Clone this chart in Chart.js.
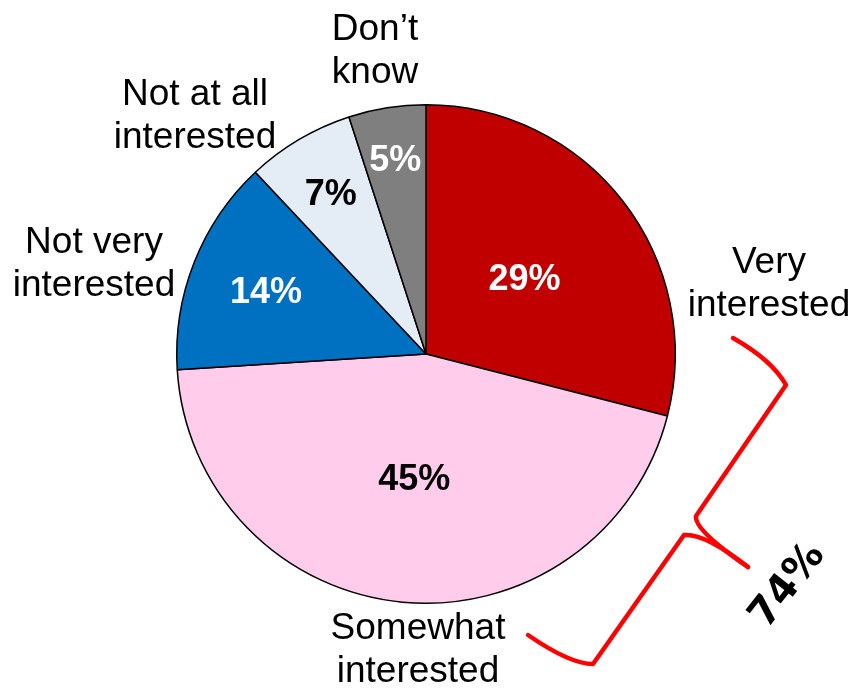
<!DOCTYPE html>
<html>
<head>
<meta charset="utf-8">
<script src="https://cdn.jsdelivr.net/npm/chart.js@4"></script>
<style>
  html, body { margin: 0; padding: 0; background: #fff; }
  #wrap { width: 856px; height: 690px; position: relative; }
</style>
</head>
<body>
<div id="wrap"><canvas id="pieChart" width="856" height="690"></canvas></div>
<script>
var categories = ['Very interested', 'Somewhat interested', 'Not very interested', 'Not at all interested', 'Don\u2019t know'];
var values = [29, 45, 14, 7, 5];
var sliceColors = ['#C00000', '#FFCCEC', '#0070C0', '#E4ECF5', '#7F7F7F'];
var valueTextColors = ['#ffffff', '#000000', '#ffffff', '#000000', '#ffffff'];
// how far out (fraction of radius) each percentage label sits
var valueLabelRadius = [0.5, 0.5, 0.69, 0.75, 0.79];
var bracketTotal = '74%';

// outside category labels, lines + anchor relative to pie centre
var outsideLabels = [
    { lines: ['Very', 'interested'], dx: 343, dy: -91 },
    { lines: ['Somewhat', 'interested'], dx: -8, dy: 275 },
    { lines: ['Not very', 'interested'], dx: -332, dy: -111 },
    { lines: ['Not at all', 'interested'], dx: -231, dy: -259 },
    { lines: ['Don\u2019t', 'know'], dx: -51, dy: -324 }
];

var labelPlugin = {
    id: 'sliceLabels',
    afterDatasetsDraw: function(chart) {
        var ctx = chart.ctx;
        var meta = chart.getDatasetMeta(0);
        var arcs = meta.data;
        if (!arcs.length) return;
        var cx = arcs[0].x, cy = arcs[0].y;

        ctx.save();
        ctx.textAlign = 'center';
        ctx.textBaseline = 'middle';

        // percentages inside slices
        ctx.font = 'bold 36px "Liberation Sans", Arial, sans-serif';
        arcs.forEach(function(arc, i) {
            var mid = (arc.startAngle + arc.endAngle) / 2;
            var r = arc.outerRadius * valueLabelRadius[i];
            ctx.fillStyle = valueTextColors[i];
            ctx.fillText(values[i] + '%', cx + Math.cos(mid) * r, cy + Math.sin(mid) * r + 2);
        });

        // category names outside
        ctx.font = '37px "Liberation Sans", Arial, sans-serif';
        ctx.fillStyle = '#000';
        outsideLabels.forEach(function(l) {
            l.lines.forEach(function(line, j) {
                ctx.fillText(line, cx + l.dx, cy + l.dy + j * 43);
            });
        });

        // red curly bracket
        ctx.strokeStyle = '#FF0000';
        ctx.lineWidth = 4.5;
        ctx.lineCap = 'round';
        ctx.lineJoin = 'round';
        function p(x, y) { return [cx + x - 426, cy + y - 354]; }
        var a;
        ctx.beginPath();
        a = p(733, 338); ctx.moveTo(a[0], a[1]);
        var c1 = p(772, 360), e1 = p(786, 385);
        ctx.quadraticCurveTo(c1[0], c1[1], e1[0], e1[1]);
        a = p(696, 516); ctx.lineTo(a[0], a[1]);
        var c2 = p(694, 530), e2 = p(748, 567);
        ctx.quadraticCurveTo(c2[0], c2[1], e2[0], e2[1]);
        ctx.stroke();

        ctx.beginPath();
        a = p(748, 567); ctx.moveTo(a[0], a[1]);
        var c3 = p(705, 533), e3 = p(684, 535);
        ctx.quadraticCurveTo(c3[0], c3[1], e3[0], e3[1]);
        a = p(593, 664); ctx.lineTo(a[0], a[1]);
        var c4 = p(570, 664), e4 = p(528, 635);
        ctx.quadraticCurveTo(c4[0], c4[1], e4[0], e4[1]);
        ctx.stroke();

        // bracket total, rotated
        var t = p(788, 586);
        ctx.translate(t[0], t[1]);
        ctx.rotate(-52 * Math.PI / 180);
        ctx.font = 'bold 40px "DejaVu Sans", "Liberation Sans", sans-serif';
        ctx.fillStyle = '#000';
        ctx.fillText(bracketTotal, 0, 0);
        ctx.restore();
    }
};

var pieCanvas = document.getElementById('pieChart');
if (pieCanvas && window.Chart) {
    var pieCtx = pieCanvas.getContext('2d');
    new Chart(pieCtx, {
        type: 'pie',
        data: {
            labels: categories,
            datasets: [{
                data: values,
                backgroundColor: sliceColors,
                borderColor: '#000000',
                borderWidth: 1.5
            }]
        },
        options: {
            responsive: false,
            animation: false,
            layout: { padding: { left: 176, right: 180, top: 104, bottom: 86 } },
            plugins: {
                legend: { display: false },
                tooltip: { enabled: false }
            }
        },
        plugins: [labelPlugin]
    });
}
</script>
</body>
</html>
